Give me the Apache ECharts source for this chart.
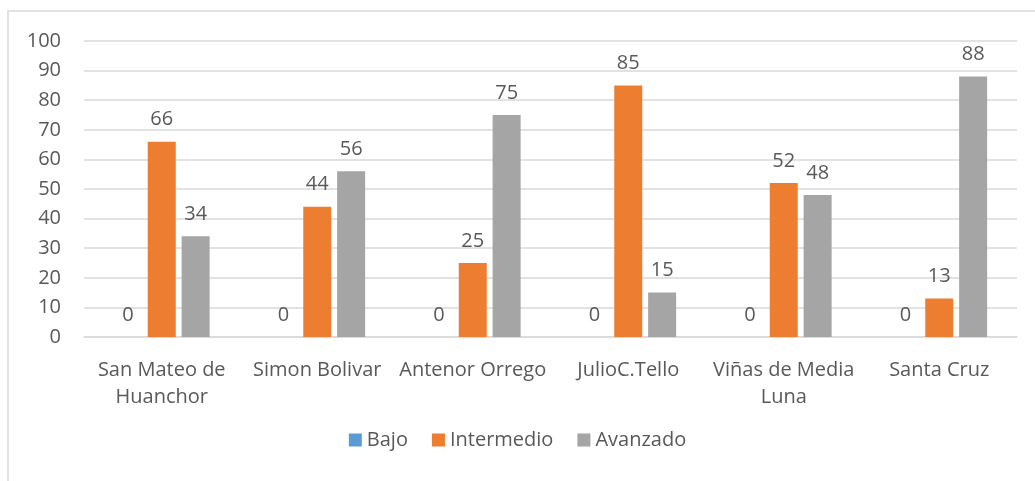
<!DOCTYPE html>
<html>
<head>
<meta charset="utf-8">
<script src="https://cdn.jsdelivr.net/npm/echarts@6/dist/echarts.min.js"></script>
<style>
  html, body { margin: 0; padding: 0; background: #fff; }
  #chart { width: 1035px; height: 481px; }
</style>
</head>
<body>
<div id="chart"></div>
<script>
const categories = ['San Mateo de\nHuanchor', 'Simon Bolivar', 'Antenor Orrego', 'JulioC.Tello', 'Viñas de Media\nLuna', 'Santa Cruz']
const bajo = [0, 0, 0, 0, 0, 0]
const intermedio = [66, 44, 25, 85, 52, 13]
const avanzado = [34, 56, 75, 15, 48, 88]

const font = 'Open Sans'
const textColor = '#595959'

const chart = echarts.init(document.getElementById('chart'))

function barSeries(name, data, color) {
  return {
    name,
    type: 'bar',
    data,
    barWidth: 28,
    barGap: '21%',
    itemStyle: { color },
    label: {
      show: true,
      position: 'top',
      distance: 12,
      color: textColor,
      fontFamily: font,
      fontSize: 20
    }
  }
}

chart.setOption({
  animation: false,
  textStyle: { fontFamily: font },
  graphic: [
    {
      type: 'rect',
      shape: { x: 8, y: 11, width: 1100, height: 600 },
      style: { fill: 'none', stroke: '#d9d9d9', lineWidth: 1.5 },
      silent: true
    }
  ],
  grid: {
    left: 84,
    right: 18,
    top: 41,
    bottom: 144
  },
  legend: {
    bottom: 26,
    left: 'center',
    itemWidth: 13,
    itemHeight: 13,
    itemGap: 24,
    icon: 'rect',
    textStyle: { color: textColor, fontFamily: font, fontSize: 20 },
    data: ['Bajo', 'Intermedio', 'Avanzado']
  },
  xAxis: {
    type: 'category',
    data: categories,
    axisLine: { lineStyle: { color: '#d9d9d9', width: 1.5 } },
    axisTick: { show: false },
    axisLabel: {
      color: textColor,
      fontFamily: font,
      fontSize: 20,
      lineHeight: 27,
      margin: 20,
      interval: 0
    }
  },
  yAxis: {
    type: 'value',
    min: 0,
    max: 100,
    interval: 10,
    axisLine: { show: false },
    axisTick: { show: false },
    splitLine: { lineStyle: { color: '#d9d9d9', width: 1.5 } },
    axisLabel: {
      color: textColor,
      fontFamily: font,
      fontSize: 20,
      margin: 23
    }
  },
  series: [
    barSeries('Bajo', bajo, '#5b9bd5'),
    barSeries('Intermedio', intermedio, '#ed7d31'),
    barSeries('Avanzado', avanzado, '#a5a5a5')
  ]
})
</script>
</body>
</html>
